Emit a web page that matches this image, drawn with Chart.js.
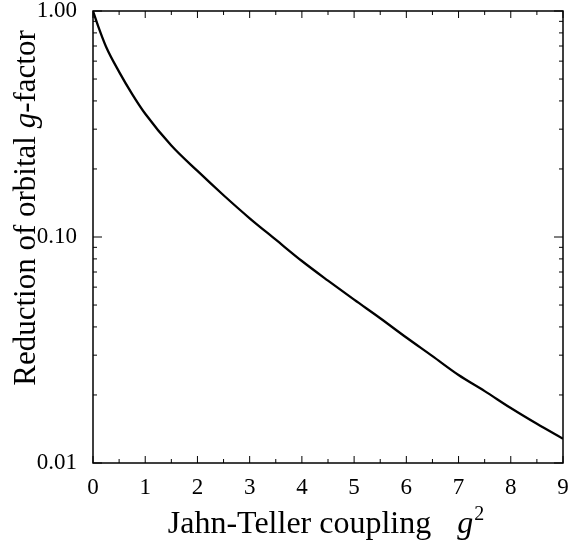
<!DOCTYPE html>
<html>
<head>
<meta charset="utf-8">
<script src="https://cdn.jsdelivr.net/npm/chart.js@4/dist/chart.umd.min.js"></script>
<style>
  html, body { margin: 0; padding: 0; background: #fff; }
  #wrap { width: 582px; height: 544px; position: relative; }
</style>
</head>
<body>
<div id="wrap"><canvas id="chart"></canvas></div>
<script>
// values
var gSquared  = [0, 0.1, 0.25, 0.5, 0.75, 1, 1.5, 2, 2.5, 3, 3.5, 4, 4.5, 5, 5.5, 6, 6.5, 7, 7.5, 8, 8.5, 9];
var reduction = [1.0, 0.855, 0.695, 0.538, 0.429, 0.351, 0.254, 0.196, 0.153, 0.121, 0.0973, 0.0783, 0.0641, 0.0528, 0.0437, 0.0359, 0.0297, 0.0245, 0.0208, 0.0175, 0.0149, 0.0128];
var yMajorTicks = [0.01, 0.1, 1];
var xLabel = 'Jahn-Teller coupling';
var yLabel = ['Reduction of orbital ', 'g', '-factor'];

var serif = '"Liberation Serif", "DejaVu Serif", serif';

var points = [];
for (var i = 0; i < gSquared.length; i++) {
  points.push({x: gSquared[i], y: reduction[i]});
}

// inward ticks on all four sides + axis titles with the italic g
var frame = {
  id: 'frame',
  afterDraw: function(chart) {
    var ctx = chart.ctx, a = chart.chartArea;
    var xs = chart.scales.x, ys = chart.scales.y;
    ctx.save();
    ctx.strokeStyle = '#000';
    ctx.lineWidth = 1.5;
    ctx.strokeRect(a.left, a.top, a.right - a.left, a.bottom - a.top);

    ctx.lineWidth = 1;
    ctx.beginPath();
    for (var v = 0; v <= 9; v += 0.5) {
      var px = xs.getPixelForValue(v);
      var len = (v % 1 === 0) ? 7 : 4;
      ctx.moveTo(px, a.bottom); ctx.lineTo(px, a.bottom - len);
      ctx.moveTo(px, a.top); ctx.lineTo(px, a.top + len);
    }
    for (var d = 0.01; d < 1.5; d *= 10) {
      for (var m = 1; m <= 9; m++) {
        var val = d * m;
        if (val > 1.0001) break;
        var py = ys.getPixelForValue(val);
        var l = (m === 1) ? 9 : 4;
        ctx.moveTo(a.left, py); ctx.lineTo(a.left + l, py);
        ctx.moveTo(a.right, py); ctx.lineTo(a.right - l, py);
      }
    }
    ctx.stroke();

    // x title
    ctx.fillStyle = '#000';
    ctx.textBaseline = 'alphabetic';
    ctx.textAlign = 'left';
    ctx.font = '32px ' + serif;
    var w1 = ctx.measureText(xLabel).width;
    ctx.font = 'italic 32px ' + serif;
    var wg = ctx.measureText('g').width;
    ctx.font = '20px ' + serif;
    var w2 = ctx.measureText('2').width;
    var gap = 26;
    var total = w1 + gap + wg + 1 + w2;
    var x0 = 326 - total / 2, base = 533;
    ctx.font = '32px ' + serif;
    ctx.fillText(xLabel, x0, base);
    ctx.font = 'italic 32px ' + serif;
    ctx.fillText('g', x0 + w1 + gap, base);
    ctx.font = '20px ' + serif;
    ctx.fillText('2', x0 + w1 + gap + wg + 1, base - 13);

    // y title, rotated
    ctx.translate(35, 208);
    ctx.rotate(-Math.PI / 2);
    var parts = [['31px ', yLabel[0]], ['italic 31px ', yLabel[1]], ['31px ', yLabel[2]]];
    var tw = 0, widths = [];
    for (var k = 0; k < parts.length; k++) {
      ctx.font = parts[k][0] + serif;
      widths.push(ctx.measureText(parts[k][1]).width);
      tw += widths[k];
    }
    var cx = -tw / 2;
    for (k = 0; k < parts.length; k++) {
      ctx.font = parts[k][0] + serif;
      ctx.fillText(parts[k][1], cx, 0);
      cx += widths[k];
    }
    ctx.restore();
  }
};

new Chart(document.getElementById('chart'), {
  type: 'line',
  data: {
    datasets: [{
      data: points,
      borderColor: '#000',
      borderWidth: 2.3,
      pointRadius: 0,
      cubicInterpolationMode: 'monotone',
      fill: false
    }]
  },
  options: {
    responsive: true,
    maintainAspectRatio: false,
    animation: false,
    layout: { padding: { top: 11, right: 19, left: 0, bottom: 0 } },
    plugins: { legend: { display: false }, tooltip: { enabled: false } },
    scales: {
      x: {
        type: 'linear',
        min: 0, max: 9,
        grid: { display: false },
        border: { display: false },
        ticks: { stepSize: 1, color: '#000', padding: 5, font: { family: serif, size: 23, lineHeight: 1.0 } },
        afterFit: function(s) { s.height = 81; }
      },
      y: {
        type: 'logarithmic',
        min: 0.01, max: 1,
        grid: { display: false },
        border: { display: false },
        afterBuildTicks: function(s) {
          s.ticks = yMajorTicks.map(function(v) { return {value: v}; });
        },
        ticks: {
          autoSkip: false,
          color: '#000',
          padding: 8,
          font: { family: serif, size: 23, lineHeight: 0.95 },
          callback: function(v) { return Number(v).toFixed(2); }
        },
        afterFit: function(s) { s.width = 93; s.paddingTop = 0; s.paddingBottom = 0; }
      }
    }
  },
  plugins: [frame]
});
</script>
</body>
</html>
